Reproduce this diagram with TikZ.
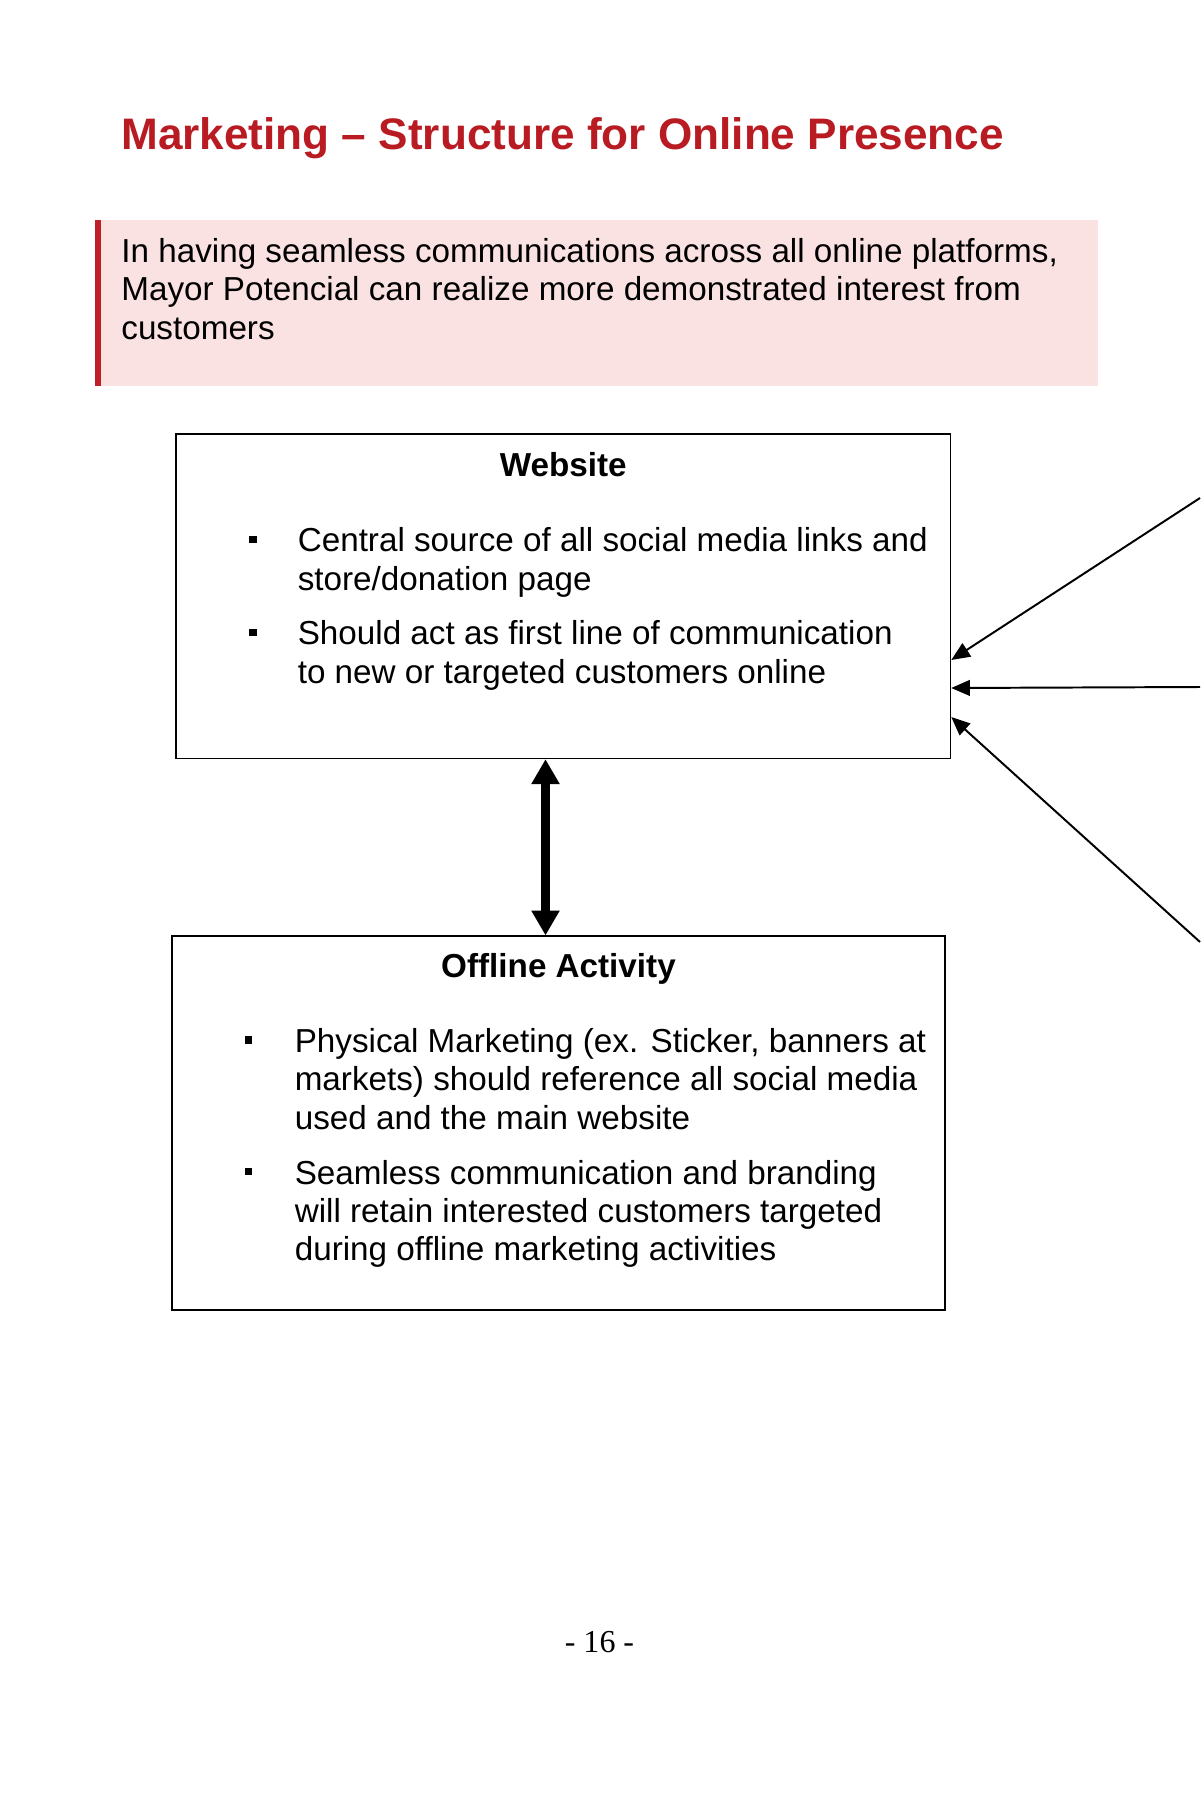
\documentclass[tikz,border=0pt]{standalone}
\usepackage{fontspec}
\setmainfont{Liberation Sans}
\newfontfamily\pagefont{Liberation Serif}
\usepackage{tikz}
\usetikzlibrary{arrows.meta}

\definecolor{titlered}{RGB}{184,28,34}
\definecolor{notepink}{RGB}{250,226,227}
\definecolor{barred}{RGB}{192,30,40}

\begin{document}
\begin{tikzpicture}[x=0.51pt, y=-0.51pt,
    box/.style = {draw, line width=0.6pt, inner sep=0pt},
    head/.style = {anchor=base, font=\bfseries\fontsize{16.95}{19.6}\selectfont},
    item/.style = {anchor=base west, align=left, inner sep=0pt, font=\fontsize{16.95}{19.6}\selectfont},
    sq/.style = {fill, minimum size=3.7pt, inner sep=0pt},
    thinarr/.style = {line width=1pt, -{Triangle[width=8pt,length=9.5pt]}},
    bigarr/.style = {line width=4.6pt, {Triangle[width=13.6pt,length=12.7pt]}-{Triangle[width=13.6pt,length=12.7pt]}}]

        \useasboundingbox (0,0) rectangle (1200,1800);

        % Title
        \node[anchor=base west, inner sep=0pt, text=titlered, font=\bfseries\fontsize{22.5}{27}\selectfont] (title) at (121,150) {Marketing – Structure for Online Presence};

        % Note box with red bar (text placed by its last baseline)
        \fill[notepink] (95,220) rectangle (1098,386);
        \fill[barred] (95,220) rectangle (100.7,386);
        \node[item] (note) at (121,339) {In having seamless communications across all online platforms,\\Mayor Potencial can realize more demonstrated interest from\\customers};

        % Website box
        \node[box, minimum width=395.1pt, minimum height=165.5pt] (web) at (563.3,596.3) {};
        \node[head] (webhead) at (563.3,476.5) {Website};
        \node[sq] (wb1) at (253,539.5) {};
        \node[item] (wt1) at (297.4,590.4) {Central source of all social media links and\\store/donation page};
        \node[sq] (wb2) at (253,632.5) {};
        \node[item] (wt2) at (297.4,683.4) {Should act as first line of communication\\to new or targeted customers online};

        % Offline Activity box
        \node[box, minimum width=394.2pt, minimum height=190.7pt] (off) at (558.5,1123) {};
        \node[head] (offhead) at (558.5,977) {Offline Activity};
        \node[sq] (ob1) at (248.5,1040) {};
        \node[item] (ot1) at (294.4,1129.4) {Physical Marketing (ex. Sticker, banners at\\markets) should reference all social media\\used and the main website};
        \node[sq] (ob2) at (248.5,1171.5) {};
        \node[item] (ot2) at (294.4,1260.9) {Seamless communication and branding\\will retain interested customers targeted\\during offline marketing activities};

        % Arrows coming in from the right edge
        \coordinate (srcA) at (1200,498);
        \coordinate (srcB) at (1200,687);
        \coordinate (srcC) at (1200,942);
        \draw[thinarr] (srcA) -- (web.east |- 0,660);
        \draw[thinarr] (srcB) -- (web.east |- 0,688);
        \draw[thinarr] (srcC) -- (web.east |- 0,717);

        % Two-way link between the boxes
        \draw[bigarr] (web.south -| 545.5,0) -- (off.north -| 545.5,0);

        % Page number
        \node[anchor=base, inner sep=0pt, font=\pagefont\fontsize{16.3}{19}\selectfont] (pnum) at (599.5,1652.5) {- 16 -};
\end{tikzpicture}
\end{document}
